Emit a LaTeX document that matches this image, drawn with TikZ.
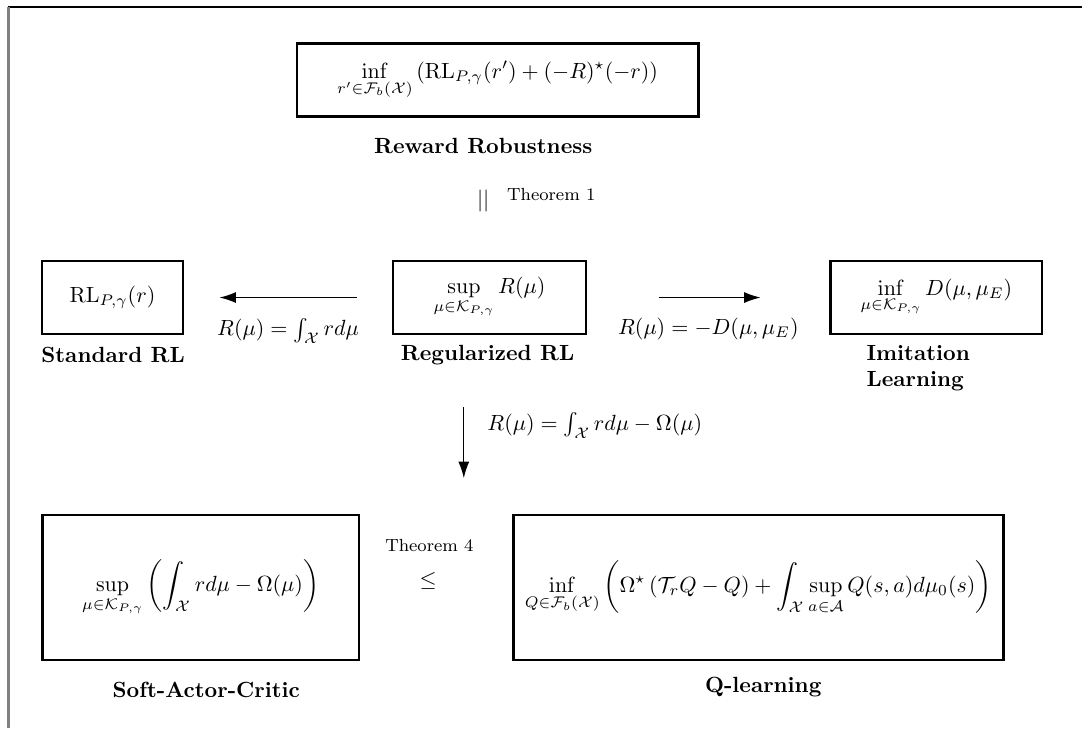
\documentclass[tikz,border=0pt]{standalone}
\usepackage{amsmath}
\usetikzlibrary{arrows.meta,positioning}

\begin{document}
\begin{tikzpicture}[
    box/.style={draw,very thick,minimum height=1.17cm},
    title/.style={font=\bfseries},
    conn/.style={-{Latex[length=7.5pt,width=5pt]},semithick},
    thm/.style={font=\footnotesize}
  ]
  \useasboundingbox (0,0) rectangle (17.31,11.65);
  \draw[line width=1pt] (0.13,11.54) -- (17.31,11.54);
  \draw[line width=1.3pt,gray] (0.13,11.54) -- (0.13,0);

  % top
  \node[box,minimum width=6.42cm] (RobBox) at (7.96,10.37)
    {$\displaystyle\inf_{r'\in\mathcal{F}_b(\mathcal{X})}\,(\mathrm{RL}_{P,\gamma}(r')+(-R)^\star(-r))$};
  \node[title] (RobT) at (7.73,9.31) {Reward Robustness};
  \node (Eq) at (7.73,8.43) {$||$};
  \node[thm] (Th1) at (8.82,8.54) {Theorem 1};

  % middle row
  \node[box,minimum width=2.26cm] (StdBox) at (1.80,6.89) {$\mathrm{RL}_{P,\gamma}(r)$};
  \node[box,minimum width=3.09cm] (RegBox) at (7.83,6.89)
    {$\displaystyle\sup_{\mu\in\mathcal{K}_{P,\gamma}} R(\mu)$};
  \node[box,minimum width=3.38cm] (ImBox) at (14.98,6.89)
    {$\displaystyle\inf_{\mu\in\mathcal{K}_{P,\gamma}} D(\mu,\mu_E)$};

  \node[title] (StdT) at (1.81,5.97) {Standard RL};
  \node[title] (RegT) at (7.80,5.97) {Regularized RL};
  \node[title,align=left,anchor=west] (ImT) at (13.74,5.76) {Imitation\\Learning};

  \draw[conn,shorten <=0.56cm,shorten >=0.56cm] (RegBox) -- (StdBox)
    node[midway,below=0.2cm] (StdLbl) {$R(\mu)=\int_{\mathcal{X}} r d\mu$};
  \draw[conn,shorten <=1.14cm,shorten >=1.1cm] (RegBox) -- (ImBox)
    node[midway,below=0.2cm] (ImLbl) {$R(\mu)=-D(\mu,\mu_E)$};

  % bottom row
  \node[box,minimum width=5.07cm,minimum height=2.32cm] (SacBox) at (3.21,2.25)
    {$\displaystyle\sup_{\mu\in\mathcal{K}_{P,\gamma}}\left(\int_{\mathcal{X}} r d\mu-\Omega(\mu)\right)$};
  \node[box,minimum width=7.84cm,minimum height=2.32cm] (QBox) at (12.13,2.25)
    {$\displaystyle\inf_{Q\in\mathcal{F}_b(\mathcal{X})}\left(\Omega^\star\left(\mathcal{T}_rQ-Q\right)+\int_{\mathcal{X}}\sup_{a\in\mathcal{A}}Q(s,a)d\mu_0(s)\right)$};
  \node[title] (SacT) at (3.30,0.61) {Soft-Actor-Critic};
  \node[title] (QT) at (12.21,0.66) {Q-learning};
  \node[thm] (Th4) at (6.87,2.93) {Theorem 4};
  \node (Le) at (6.85,2.35) {$\leq$};

  \coordinate (Down) at (7.42,4.00);
  \draw[conn,shorten <=0.55cm] (RegT.south -| Down) -- (Down)
    node[midway,right=0.25cm] (SacLbl) {$R(\mu)=\int_{\mathcal{X}} r d\mu-\Omega(\mu)$};
\end{tikzpicture}
\end{document}
